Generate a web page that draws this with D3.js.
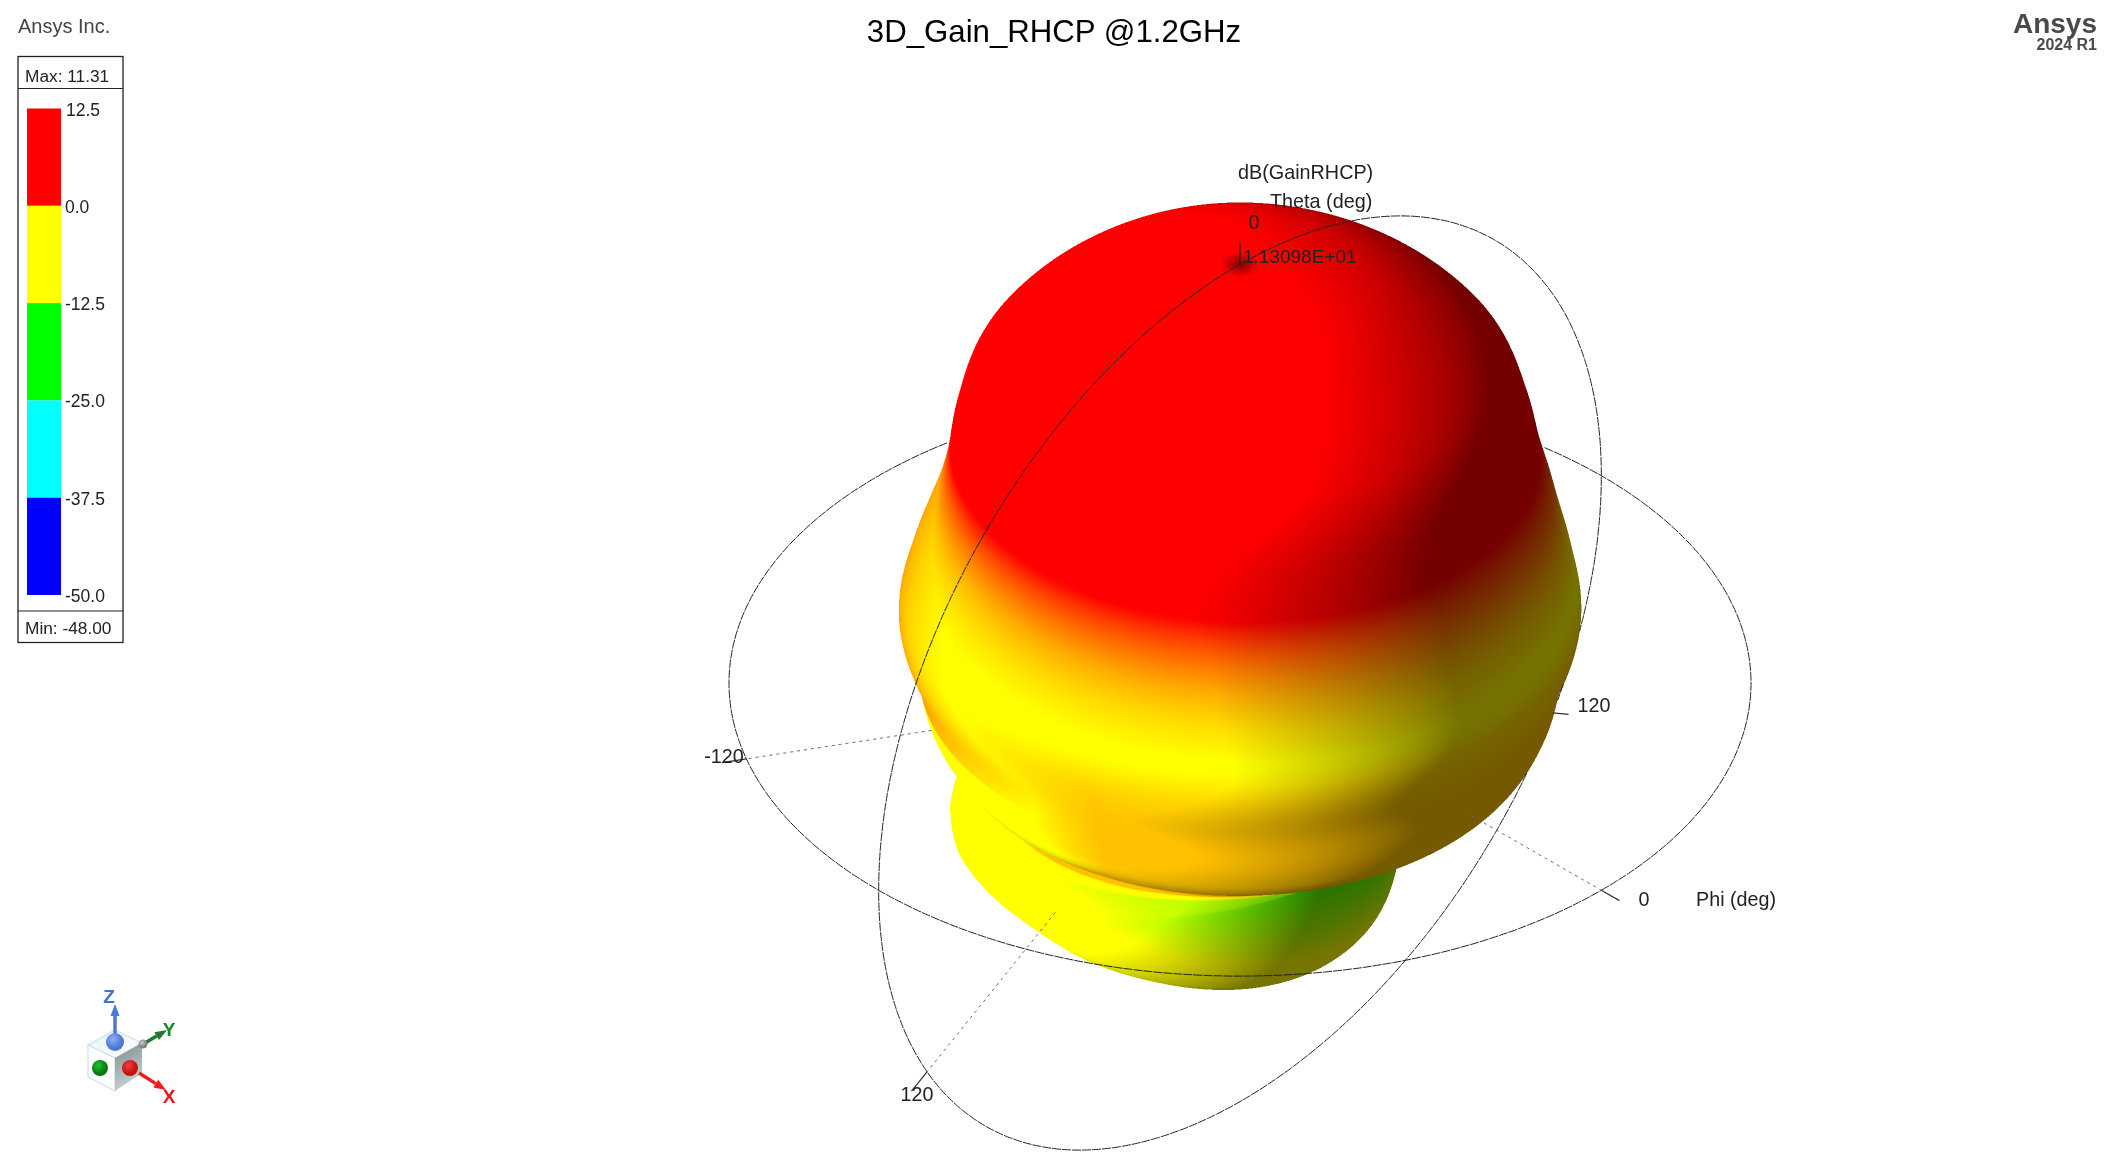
<!DOCTYPE html>
<html><head><meta charset="utf-8">
<script src="https://cdn.jsdelivr.net/npm/d3@7"></script>
<style>
html,body{margin:0;background:#fff;overflow:hidden}
#wrap{position:relative;width:2109px;height:1172px}
canvas,svg{position:absolute;left:0;top:0}
text{font-family:"Liberation Sans",Arial,sans-serif;fill:#222}
</style></head><body><div id="wrap"></div>
<script>
// ---- data ----
const title = "3D_Gain_RHCP @1.2GHz";
const legendLabels = ["12.5","0.0","-12.5","-25.0","-37.5","-50.0"];
const legendColors = ["#ff0000","#ffff00","#00ff00","#00ffff","#0000ff"];
const gainMax = 11.31, gainMin = -48.00;
const peakLabel = "1.13098E+01";
// elevation cuts: polar angle (deg), gain on the lobe side and on the neck side (dB)
const thetaDeg = [0,10,20,35,42,48,54,60,68,76,85,93,100,106,112,118,125,135,145,155,165,180];
const lobeDb   = [11.31,10.8,9.5,5.6,1.5,-2.2,-4.5,-5.7,-6.5,-7.2,-10.2,-11.5,-13.3,-15,-13,-9.9,-9.2,-9.4,-9.5,-10,-10.5,-11];
const neckDb   = [11.31,10.8,9.7,6.3,2.5,-0.8,-3,-4.7,-6.1,-7.2,-10.2,-11.5,-13.3,-17,-21,-24,-26,-22,-16.5,-13,-11.5,-11];
// surface colour lift on the lower rim of the ring (dB)
const rimLiftDb= [0,0,0,0,0,0,0,0,0,2,5.4,6.7,9,18,0,0,0,0,0,0,0,0];
// how the two cuts blend with screen azimuth (deg from the viewer)
const blendAz  = [-180,-90,-60,-30,-5,30,60,90,180];
const blendLobe= [0.5,1,0.9,0.6,0.4,0.2,0.08,0,0.5];
const phiTicks = [-120, 0];
const thetaTicks = [{theta:120,phi:90,label:"120"},{theta:120,phi:-90,label:"120"}];

// ---- view ----
const W=2109,H=1172, cx=1240, cy=683, R=511;
const az0=45*Math.PI/180, el=35*Math.PI/180;
const rScale=d3.scaleLinear().domain([gainMin,gainMax]).range([0,R]);
const colorScale=d3.scaleLinear().domain([-25,-15,-6.2,-0.5,60]).range(["#00ff00","#ffff00","#ffff00","#ff0000","#ff0000"]).clamp(true);
const lut=d3.range(0,3001).map(i=>{const c=d3.rgb(colorScale(-40+i*0.02));return [c.r,c.g,c.b];});

function hermite(xs,ys){
  const n=xs.length,m=new Array(n);
  for(let i=0;i<n;i++){
    if(i===0||i===n-1)m[i]=0;
    else m[i]=(ys[i+1]-ys[i-1])/(xs[i+1]-xs[i-1]);
  }
  return x=>{
    let i=d3.bisectRight(xs,x)-1; if(i<0)i=0; if(i>n-2)i=n-2;
    const h=xs[i+1]-xs[i],t=(x-xs[i])/h,t2=t*t,t3=t2*t;
    return (2*t3-3*t2+1)*ys[i]+(t3-2*t2+t)*h*m[i]+(-2*t3+3*t2)*ys[i+1]+(t3-t2)*h*m[i+1];
  };
}
const lobeGain=hermite(thetaDeg,lobeDb), neckGain=hermite(thetaDeg,neckDb), rimLift=hermite(thetaDeg,rimLiftDb), blend=hermite(blendAz,blendLobe);
const azOf=p=>{let a=p+45; while(a>180)a-=360; while(a<-180)a+=360; return a;};
const weightAt=p=>Math.max(0,Math.min(1,blend(azOf(p))));
const gainAt=(t,p)=>{const w=weightAt(p);return w*lobeGain(t)+(1-w)*neckGain(t);};
const colourAt=(t,p,g)=>{
  const l=Math.max(0,rimLift(t))*Math.min(1,(1-weightAt(p))*1.6+0.3);
  return l>0&&g<-4.8?Math.min(-4.8,g+l):g;
};

// world -> view (x right, y up, z toward viewer)
function view(rr,tDeg,pDeg){
  const t=tDeg*Math.PI/180,a=pDeg*Math.PI/180+az0;
  const rho=rr*Math.sin(t),zw=rr*Math.cos(t),h=rho*Math.cos(a);
  return [rho*Math.sin(a), zw*Math.cos(el)-h*Math.sin(el), zw*Math.sin(el)+h*Math.cos(el)];
}

// ---- z-buffered rasteriser ----
const SS=2, bx=760, by=150, bw=1000, bh=950;
const BW=bw*SS,BH=bh*SS;
const zbuf=new Float32Array(BW*BH).fill(-1e9);
const off=document.createElement("canvas");off.width=BW;off.height=BH;
const octx=off.getContext("2d");const img=octx.createImageData(BW,BH);const px=img.data;
const nT=360,nP=360;
const V=new Float32Array((nT+1)*(nP+1)*6); // sx,sy,z,r,g,b
const idx=(i,j)=>(i*(nP+1)+j)*6;
const pos=[];
for(let i=0;i<=nT;i++){const t=180*i/nT;const row=[];
  for(let j=0;j<=nP;j++){const p=360*j/nP-180;const g=gainAt(t,p);row.push({v:view(rScale(g),t,p),g:colourAt(t,p,g)});}
  pos.push(row);}
const lobeCentre=[-77,-97,-110], nSpan=7;
for(let i=0;i<=nT;i++)for(let j=0;j<=nP;j++){
  const t=180*i/nT;
  const c=pos[i][j].v,a=pos[Math.min(i+nSpan,nT)][j].v,b=pos[Math.max(i-nSpan,0)][j].v;
  const d=pos[i][(j+3)%nP].v,e=pos[i][(j-3+nP)%nP].v;
  const u=[a[0]-b[0],a[1]-b[1],a[2]-b[2]],w=[d[0]-e[0],d[1]-e[1],d[2]-e[2]];
  let n=[u[1]*w[2]-u[2]*w[1],u[2]*w[0]-u[0]*w[2],u[0]*w[1]-u[1]*w[0]];
  let m=Math.hypot(...n);
  if(m<1e-3||i===0||i===nT){n=c.slice();m=Math.hypot(...n);}
  n=n.map(q=>q/m);
  if(n[0]*c[0]+n[1]*c[1]+n[2]*c[2]<0)n=n.map(q=>-q);
  // left silhouette of the ring runs warmer
  let colourDb=pos[i][j].g;
  if(c[0]<0&&t>50&&t<88&&n[2]<0.5) colourDb=Math.max(colourDb,-6.2+(0.5-n[2])*4.4);
  // back lobe shaded as one smooth bulb
  const s=Math.max(0,Math.min(1,(t-103)/7));
  if(s>0){
    const q=[c[0]-lobeCentre[0],c[1]-lobeCentre[1],c[2]-lobeCentre[2]],qm=Math.hypot(...q);
    n=n.map((v,k)=>v*(1-s)+s*q[k]/qm);
    const nm=Math.hypot(...n);n=n.map(v=>v/nm);
  }
  // light: up-left-front on the dome, level on the ring and lobe
  const ly=0.35*Math.max(0,Math.min(1,(85-t)/25));
  const lm=Math.hypot(0.68,ly,0.68);
  const dot=(n[0]*-0.68+n[1]*ly+n[2]*0.68)/lm;
  const I=Math.min(1,0.46+0.95*Math.max(0,dot));
  const col=lut[Math.max(0,Math.min(3000,Math.round((colourDb+40)/0.02)))];
  const o=idx(i,j);
  V[o]=(cx+c[0]-bx)*SS;V[o+1]=(cy-c[1]-by)*SS;V[o+2]=c[2];
  V[o+3]=col[0]*I;V[o+4]=col[1]*I;V[o+5]=col[2]*I;
}
function tri(a,b,c){
  const ax=V[a],ay=V[a+1],bxx=V[b],byy=V[b+1],cxx=V[c],cyy=V[c+1];
  const den=(byy-cyy)*(ax-cxx)+(cxx-bxx)*(ay-cyy);
  if(Math.abs(den)<1e-6)return;
  const x0=Math.max(0,Math.floor(Math.min(ax,bxx,cxx))),x1=Math.min(BW-1,Math.ceil(Math.max(ax,bxx,cxx)));
  const y0=Math.max(0,Math.floor(Math.min(ay,byy,cyy))),y1=Math.min(BH-1,Math.ceil(Math.max(ay,byy,cyy)));
  for(let y=y0;y<=y1;y++)for(let x=x0;x<=x1;x++){
    const l1=((byy-cyy)*(x+.5-cxx)+(cxx-bxx)*(y+.5-cyy))/den;
    const l2=((cyy-ay)*(x+.5-cxx)+(ax-cxx)*(y+.5-cyy))/den;
    const l3=1-l1-l2;
    if(l1<-1e-4||l2<-1e-4||l3<-1e-4)continue;
    const z=l1*V[a+2]+l2*V[b+2]+l3*V[c+2],k=y*BW+x;
    if(z>zbuf[k]){zbuf[k]=z;const q=k*4;
      px[q]=l1*V[a+3]+l2*V[b+3]+l3*V[c+3];
      px[q+1]=l1*V[a+4]+l2*V[b+4]+l3*V[c+4];
      px[q+2]=l1*V[a+5]+l2*V[b+5]+l3*V[c+5];
      px[q+3]=255;}
  }
}
for(let i=0;i<nT;i++)for(let j=0;j<nP;j++){
  const a=idx(i,j),b=idx(i+1,j),c=idx(i+1,j+1),d=idx(i,j+1);
  tri(a,b,c);tri(a,c,d);
}
octx.putImageData(img,0,0);

const wrap=d3.select("#wrap");
const canvas=wrap.append("canvas").attr("width",W).attr("height",H).node();
const ctx=canvas.getContext("2d");
ctx.imageSmoothingEnabled=true;ctx.imageSmoothingQuality="high";
ctx.drawImage(off,bx,by,bw,bh);

const svg=wrap.append("svg").attr("width",W).attr("height",H);
const toScreen=v=>[cx+v[0],cy-v[1],v[2]];
const visible=s=>{
  const x=Math.round((s[0]-bx)*SS),y=Math.round((s[1]-by)*SS);
  if(x<0||y<0||x>=BW||y>=BH)return true;
  return s[2]>=zbuf[y*BW+x]-1;
};
function visPath(points){
  let d="",on=false;
  for(const s of points){
    if(visible(s)){d+=(on?"L":"M")+s[0].toFixed(1)+" "+s[1].toFixed(1);on=true;}else on=false;
  }
  return d;
}
// reference circles
const phiCircle=d3.range(0,360.5,0.5).map(p=>toScreen(view(R,90,p)));
const thetaCircle=d3.range(0,360.5,0.5).map(t=>toScreen(t<=180?view(R,t,90):view(R,360-t,-90)));
const gLines=svg.append("g").attr("fill","none");
[phiCircle,thetaCircle].forEach(c=>gLines.append("path").attr("d",visPath(c)).attr("stroke","#222").attr("stroke-width",1).attr("stroke-dasharray","9 1"));
// spokes + ticks
const spoke=(t,p)=>{
  const pts=d3.range(0,1.0001,0.005).map(f=>toScreen(view(R*f,t,p)));
  gLines.append("path").attr("d",visPath(pts)).attr("stroke","#666").attr("stroke-width",1).attr("stroke-dasharray","3 4");
  const a=toScreen(view(R,t,p)),b=toScreen(view(R*1.05,t,p));
  gLines.append("line").attr("x1",a[0]).attr("y1",a[1]).attr("x2",b[0]).attr("y2",b[1]).attr("stroke","#333").attr("stroke-width",1.2);
};
phiTicks.forEach(p=>spoke(90,p));
thetaTicks.forEach(d=>spoke(d.theta,d.phi));
{const a=toScreen(view(R,0,0)),b=toScreen(view(R*1.05,0,0));
 gLines.append("line").attr("x1",a[0]).attr("y1",a[1]).attr("x2",b[0]).attr("y2",b[1]).attr("stroke","#222").attr("stroke-width",1.2);}
// pole dimple
const defs=svg.append("defs");
const rg=defs.append("radialGradient").attr("id","dim");
rg.append("stop").attr("offset","0").attr("stop-color","#400").attr("stop-opacity",0.65);
rg.append("stop").attr("offset","1").attr("stop-color","#400").attr("stop-opacity",0);
svg.insert("ellipse","g").attr("cx",cx).attr("cy",cy-R*Math.cos(el)).attr("rx",20).attr("ry",13).attr("fill","url(#dim)");

const text=(s,x,y,size,opt={})=>{
  const t=svg.append("text").attr("x",x).attr("y",y).attr("font-size",size).text(s);
  if(opt.anchor)t.attr("text-anchor",opt.anchor);
  if(opt.bold)t.attr("font-weight","bold");
  if(opt.fill)t.style("fill",opt.fill);
  return t;
};
text(title,1054,42,31.2,{anchor:"middle",fill:"#000"});
text("Ansys Inc.",18,33,20,{fill:"#444"});
text("Ansys",2097,33,28,{anchor:"end",bold:true,fill:"#4a4a4a"});
text("2024 R1",2097,50,16,{anchor:"end",bold:true,fill:"#4a4a4a"});
text("dB(GainRHCP)",1238,179,19.8);
text("Theta (deg)",1270,208,19.8);
text("0",1254,229,19.7,{anchor:"middle"});
text(peakLabel,1243,263,19);
text("120",1594,712,19.7,{anchor:"middle"});
text("-120",724,763,19.7,{anchor:"middle"});
text("120",917,1101,19.7,{anchor:"middle"});
text("0",1644,906,19.7,{anchor:"middle"});
text("Phi (deg)",1736,906,19.7,{anchor:"middle"});

// ---- legend ----
const lg=svg.append("g");
const legendY=d3.scalePoint().domain(legendLabels).range([108.5,595]);
lg.append("rect").attr("x",18).attr("y",56.5).attr("width",105).attr("height",586).attr("fill","none").attr("stroke","#222").attr("stroke-width",1.3);
[88.5,611].forEach(y=>lg.append("line").attr("x1",18).attr("x2",123).attr("y1",y).attr("y2",y).attr("stroke","#222").attr("stroke-width",1.1));
lg.selectAll("rect.sw").data(legendColors).join("rect").attr("class","sw")
  .attr("x",27).attr("width",34)
  .attr("y",(d,i)=>legendY(legendLabels[i]))
  .attr("height",(d,i)=>legendY(legendLabels[i+1])-legendY(legendLabels[i]))
  .attr("fill",d=>d);
lg.selectAll("text.tk").data(legendLabels).join("text").attr("class","tk")
  .attr("x",(d,i)=>i==0?66:65).attr("y",d=>legendY(d)+7).attr("font-size",17.5).text(d=>d).style("fill","#222");
text("Max: "+gainMax.toFixed(2),25,82,17.3);
text("Min: "+gainMin.toFixed(2),25,634,17.3);

// ---- orientation triad ----
const tg=svg.append("g");
const grad=(id,a,b,dir)=>{const g=defs.append("linearGradient").attr("id",id);
  if(dir)g.attr("x1",dir[0]).attr("y1",dir[1]).attr("x2",dir[2]).attr("y2",dir[3]);
  g.append("stop").attr("offset","0").attr("stop-color",a);g.append("stop").attr("offset","1").attr("stop-color",b);};
grad("fR","#7f8a8a","#c8d2d2",[0,0,0.3,1]);grad("fT","#eaf4fb","#fbfdff",[0,0,1,1]);
tg.append("path").attr("d","M88 1045L115 1030L142 1043L115 1058Z").attr("fill","url(#fT)").attr("stroke","#cfe0ee").attr("stroke-width",1.2);
tg.append("path").attr("d","M88 1045L115 1058L115 1091L88 1077Z").attr("fill","#fff").attr("stroke","#cfe0ee").attr("stroke-width",1.2);
tg.append("path").attr("d","M115 1058L142 1043L142 1073L115 1091Z").attr("fill","url(#fR)");
const ball=(id,x,y,r,c1,c2)=>{const g=defs.append("radialGradient").attr("id",id).attr("cx",.4).attr("cy",.35);
  g.append("stop").attr("offset","0").attr("stop-color",c1);g.append("stop").attr("offset","1").attr("stop-color",c2);
  tg.append("circle").attr("cx",x).attr("cy",y).attr("r",r).attr("fill",`url(#${id})`);};
const arrow=(x1,y1,x2,y2,c,w)=>{
  const dx=x2-x1,dy=y2-y1,m=Math.hypot(dx,dy),ux=dx/m,uy=dy/m,nx=-uy,ny=ux,h=12;
  tg.append("line").attr("x1",x1).attr("y1",y1).attr("x2",x2-ux*h).attr("y2",y2-uy*h).attr("stroke",c).attr("stroke-width",w);
  tg.append("path").attr("d",`M${x2} ${y2}L${x2-ux*h+nx*4.5} ${y2-uy*h+ny*4.5}L${x2-ux*h-nx*4.5} ${y2-uy*h-ny*4.5}Z`).attr("fill",c);
};
arrow(115,1036,115,1004,"#4a78d8",3.5);
arrow(145,1043,167,1030,"#1f7a2c",3.5);
arrow(139,1073,166,1090,"#ee1c1c",3.5);
ball("bB",115,1042,9,"#8fb0f0","#4a78d8");
ball("bG",100,1068,8,"#22c032","#067a12");
ball("bR",130,1068,8,"#f04040","#c81010");
ball("bK",143,1044,4.5,"#c8c8c8","#808080");
text("Z",109,1003,19,{anchor:"middle",bold:true,fill:"#3f6fd8"});
text("Y",169,1036,19,{anchor:"middle",bold:true,fill:"#148a22"});
text("X",169,1103,19,{anchor:"middle",bold:true,fill:"#f01414"});
</script></body></html>
